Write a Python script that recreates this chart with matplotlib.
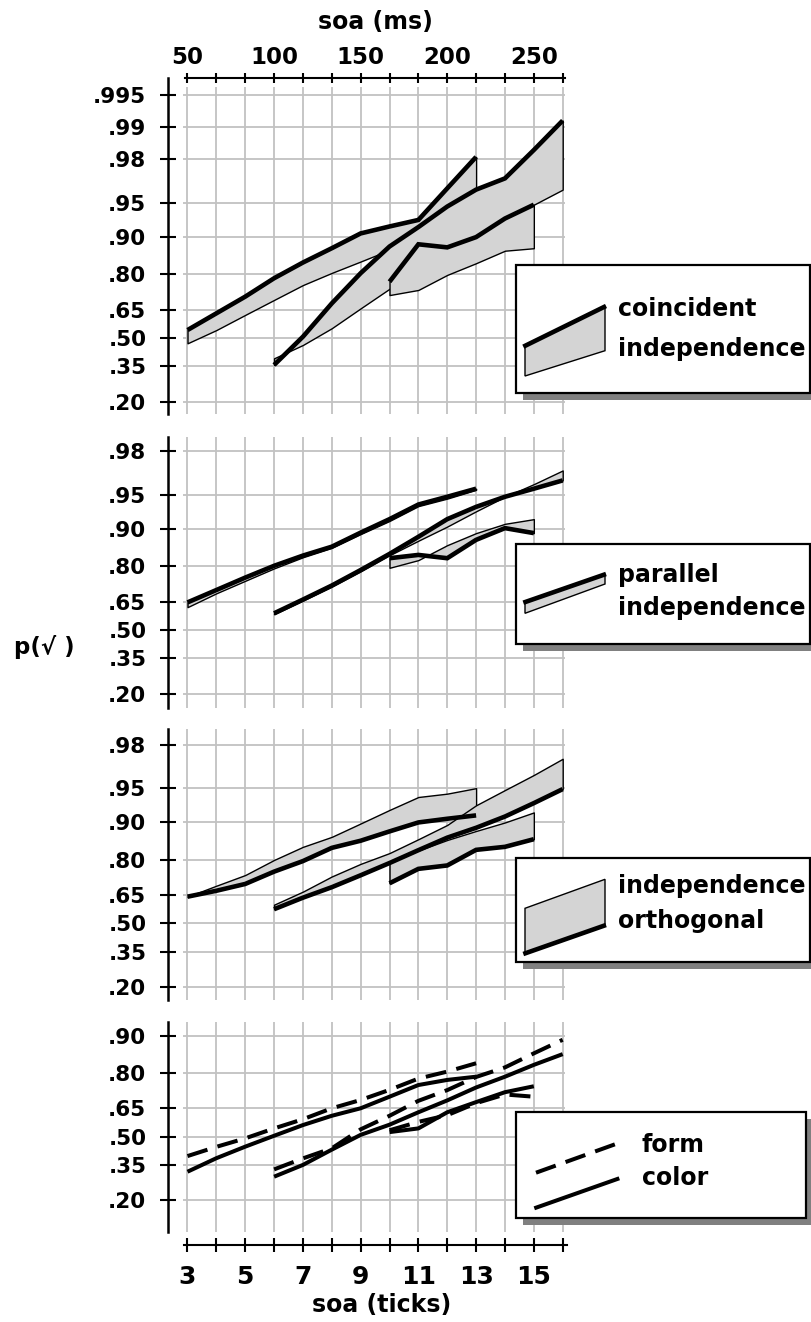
import matplotlib
matplotlib.use("Agg")
import matplotlib.pyplot as plt
import matplotlib.transforms as mtransforms
from matplotlib.ticker import FixedLocator, NullLocator
from matplotlib.patches import Rectangle, Polygon
from matplotlib.lines import Line2D

# ---------------- data ----------------
soa_ticks = list(range(3, 17))
soa_tick_labels = ['3', '', '5', '', '7', '', '9', '', '11', '', '13', '', '15', '']
soa_ms_labels = ['50', '', '', '100', '', '', '150', '', '', '200', '', '', '250', '']

xA = list(range(3, 14))
xB = list(range(6, 17))
xC = list(range(10, 16))

# panel 1: coincident (thick) vs independence (thin)
p1_A_cond = [0.543, 0.631, 0.711, 0.786, 0.838, 0.876, 0.907, 0.919, 0.929, 0.963, 0.981]
p1_A_ind  = [0.471, 0.543, 0.623, 0.696, 0.760, 0.805, 0.841, 0.872, 0.912, 0.946, 0.960]
p1_B_cond = [0.357, 0.507, 0.680, 0.804, 0.880, 0.918, 0.946, 0.962, 0.970, 0.9836, 0.9913]
p1_B_ind  = [0.391, 0.462, 0.553, 0.656, 0.745, 0.840, 0.876, 0.896, 0.931, 0.948, 0.962]
p1_C_cond = [0.773, 0.885, 0.878, 0.900, 0.931, 0.948]
p1_C_ind  = [0.718, 0.740, 0.798, 0.836, 0.870, 0.876]

# panel 2: parallel (thick) vs independence (thin)
p2_A_cond = [0.646, 0.705, 0.758, 0.802, 0.835, 0.860, 0.893, 0.918, 0.939, 0.948, 0.956]
p2_A_ind  = [0.622, 0.690, 0.745, 0.793, 0.830, 0.857, 0.890, 0.915, 0.937, 0.946, 0.955]
p2_B_cond = [0.590, 0.660, 0.725, 0.787, 0.840, 0.884, 0.918, 0.936, 0.948, 0.956, 0.963]
p2_B_ind  = [0.585, 0.655, 0.720, 0.782, 0.836, 0.875, 0.905, 0.930, 0.948, 0.960, 0.970]
p2_C_cond = [0.827, 0.837, 0.827, 0.877, 0.902, 0.892]
p2_C_ind  = [0.795, 0.821, 0.864, 0.892, 0.910, 0.918]

# panel 3: orthogonal (thick) vs independence (thin)
p3_A_cond = [0.641, 0.670, 0.702, 0.755, 0.795, 0.838, 0.858, 0.881, 0.900, 0.907, 0.913]
p3_A_ind  = [0.641, 0.694, 0.741, 0.799, 0.841, 0.868, 0.898, 0.922, 0.940, 0.944, 0.950]
p3_B_cond = [0.576, 0.636, 0.687, 0.740, 0.788, 0.831, 0.866, 0.889, 0.911, 0.932, 0.949]
p3_B_ind  = [0.600, 0.666, 0.735, 0.785, 0.822, 0.862, 0.895, 0.929, 0.948, 0.962, 0.973]
p3_C_cond = [0.705, 0.766, 0.779, 0.832, 0.841, 0.862]
p3_C_ind  = [0.790, 0.830, 0.860, 0.882, 0.900, 0.918]

# panel 4: form (dashed) vs color (solid)
p4_A_form  = [0.396, 0.445, 0.491, 0.545, 0.594, 0.650, 0.690, 0.735, 0.780, 0.805, 0.832]
p4_A_color = [0.318, 0.385, 0.446, 0.505, 0.563, 0.612, 0.650, 0.705, 0.755, 0.775, 0.787]
p4_B_form  = [0.329, 0.384, 0.437, 0.540, 0.612, 0.686, 0.734, 0.786, 0.819, 0.860, 0.892]
p4_B_color = [0.295, 0.351, 0.430, 0.510, 0.565, 0.630, 0.688, 0.745, 0.787, 0.827, 0.858]
p4_C_form  = [0.535, 0.580, 0.615, 0.675, 0.715, 0.705]
p4_C_color = [0.525, 0.545, 0.630, 0.680, 0.725, 0.750]

yticks_full = [0.20, 0.35, 0.50, 0.65, 0.80, 0.90, 0.95, 0.98, 0.99, 0.995]
ylabels_full = ['.20', '.35', '.50', '.65', '.80', '.90', '.95', '.98', '.99', '.995']
panel_nticks = [10, 8, 8, 6]

# ---------------- style / layout ----------------
W, H = 812, 1322
plt.rcParams['font.family'] = ['DejaVu Sans']
plt.rcParams['font.weight'] = 'bold'
fig = plt.figure(figsize=(W / 100, H / 100), dpi=100)
fig.patch.set_facecolor('white')

GRAY = '#d4d4d4'
GRID = '#c2c2c2'
THICK = 3.3
THIN = 1.0

ax_left_px, ax_right_px = 168.2, 570.0
x3_px, unit_px = 187.5, 28.86
xlim = (3 - (x3_px - ax_left_px) / unit_px, 3 + (ax_right_px - x3_px) / unit_px)
grid_x0, grid_x1 = 2.861, 16.08

panels_px = [(78.0, 414.0), (437.0, 708.0), (729.3, 1000.0), (1021.7, 1231.7)]
ylims = [(0.1603, 0.99654), (0.1546, 0.98530), (0.1582, 0.98561), (0.1121, 0.9245)]

pix = mtransforms.Affine2D().scale(1 / W, -1 / H).translate(0, 1) + fig.transFigure

axes = []
for i, ((top, bot), yl) in enumerate(zip(panels_px, ylims)):
    ax = fig.add_axes([ax_left_px / W, 1 - bot / H, (ax_right_px - ax_left_px) / W, (bot - top) / H])
    ax.set_yscale('logit')
    ax.set_xlim(*xlim)
    ax.set_ylim(*yl)
    for s in ['top', 'right', 'bottom']:
        ax.spines[s].set_visible(False)
    ax.spines['left'].set_linewidth(1.8)
    n = panel_nticks[i]
    ax.yaxis.set_major_locator(FixedLocator(yticks_full[:n]))
    ax.yaxis.set_minor_locator(NullLocator())
    ax.set_yticklabels(ylabels_full[:n])
    ax.tick_params(axis='y', direction='inout', length=11.5, width=1.5, pad=10, labelsize=15.5)
    ax.xaxis.set_minor_locator(NullLocator())
    ax.set_xticks([])
    # grid
    gtop = 0.973 if i == 0 else 1.0
    ax.vlines(soa_ticks, 0, gtop, transform=ax.get_xaxis_transform(), colors=GRID, lw=1.3, zorder=0)
    ax.hlines(yticks_full[:n], grid_x0, grid_x1, colors=GRID, lw=1.3, zorder=0)
    axes.append(ax)

# top axis (ms)
ax1 = axes[0]
ax1.spines['top'].set_visible(True)
ax1.spines['top'].set_linewidth(1.5)
ax1.spines['top'].set_bounds(2.93, 16.08)
ax1.xaxis.set_ticks_position('top')
ax1.set_xticks(soa_ticks)
ax1.set_xticklabels(soa_ms_labels)
ax1.tick_params(axis='x', direction='inout', length=6.5, width=1.5, pad=3, labelsize=16.5)

# bottom axis (ticks)
ax4 = axes[3]
ax4.spines['bottom'].set_visible(True)
ax4.spines['bottom'].set_linewidth(1.5)
ax4.spines['bottom'].set_position(('outward', 9.6))
ax4.spines['bottom'].set_bounds(2.88, 16.15)
ax4.xaxis.set_ticks_position('bottom')
ax4.set_xticks(soa_ticks)
ax4.set_xticklabels(soa_tick_labels)
ax4.tick_params(axis='x', direction='inout', length=9.4, width=1.5, pad=10, labelsize=18)

fig.text(375 / W, 1 - 22.5 / H, 'soa (ms)', ha='center', va='center', fontsize=17, fontweight='bold')
fig.text(382 / W, 1 - 1305 / H, 'soa (ticks)', ha='center', va='center', fontsize=17, fontweight='bold')
fig.text(44 / W, 1 - 646.7 / H, 'p(\u221a )', ha='center', va='center', fontsize=16.5, fontweight='bold')


def band(ax, x, cond, ind):
    ax.fill_between(x, cond, ind, facecolor=GRAY, edgecolor='black', linewidth=THIN, zorder=2)


def thick(ax, x, cond):
    ax.plot(x, cond, color='black', lw=THICK, solid_capstyle='butt', solid_joinstyle='miter', zorder=3)


panel_data = [
    [(xA, p1_A_cond, p1_A_ind), (xB, p1_B_cond, p1_B_ind), (xC, p1_C_cond, p1_C_ind)],
    [(xA, p2_A_cond, p2_A_ind), (xB, p2_B_cond, p2_B_ind), (xC, p2_C_cond, p2_C_ind)],
    [(xA, p3_A_cond, p3_A_ind), (xB, p3_B_cond, p3_B_ind), (xC, p3_C_cond, p3_C_ind)],
]
for ax, series in zip(axes[:3], panel_data):
    for x, c, ind in series:
        band(ax, x, c, ind)
    for x, c, ind in series:
        thick(ax, x, c)

LW4 = 2.9
for x, f, c in [(xA, p4_A_form, p4_A_color), (xB, p4_B_form, p4_B_color), (xC, p4_C_form, p4_C_color)]:
    ax4.plot(x, f, color='black', lw=LW4, dashes=(5.2, 2.6), dash_capstyle='butt', zorder=3)
    ax4.plot(x, c, color='black', lw=LW4, solid_capstyle='butt', zorder=3)


# ---------------- legends (drawn in pixel coords) ----------------
def legend_box(x0, y0, x1, y1):
    fig.add_artist(Rectangle((x0 + 7, y0 + 7), x1 - x0, y1 - y0, transform=pix,
                             facecolor='#808080', edgecolor='none', zorder=5))
    fig.add_artist(Rectangle((x0, y0), x1 - x0, y1 - y0, transform=pix,
                             facecolor='white', edgecolor='black', lw=1.6, zorder=6))


def legend_text(x, y, s):
    fig.text(x, y, s, transform=pix, ha='left', va='baseline', fontsize=17,
             fontweight='bold', zorder=8)


def glyph_band(poly, line):
    fig.add_artist(Polygon(poly, closed=True, transform=pix, facecolor=GRAY,
                           edgecolor='black', lw=THIN, zorder=7))
    fig.add_artist(Line2D([line[0][0], line[1][0]], [line[0][1], line[1][1]], transform=pix,
                          color='black', lw=THICK, solid_capstyle='butt', zorder=7))


legend_box(516, 265, 810, 393)
glyph_band([(525, 346.7), (605, 306), (605, 350.7), (525, 376)], [(523.3, 346.7), (606, 306)])
legend_text(618, 316, 'coincident')
legend_text(618, 356, 'independence')

legend_box(516, 544, 810, 644.3)
glyph_band([(525, 602.7), (605, 574), (605, 584), (525, 613.3)], [(523.3, 602.7), (606, 574)])
legend_text(618, 582.3, 'parallel')
legend_text(618, 615, 'independence')

legend_box(516, 858.3, 810, 961.7)
glyph_band([(525, 908.3), (605, 879.3), (605, 925), (525, 954)], [(523.3, 954), (606, 925)])
legend_text(618, 893.3, 'independence')
legend_text(618, 927.7, 'orthogonal')

legend_box(516, 1111.7, 806, 1217.7)
fig.add_artist(Line2D([536, 615], [1172.7, 1144.3], transform=pix, color='black', lw=LW4,
                      dashes=(5.2, 2.6), dash_capstyle='butt', zorder=7))
fig.add_artist(Line2D([534.3, 619.3], [1208.3, 1178.3], transform=pix, color='black', lw=LW4,
                      solid_capstyle='butt', zorder=7))
legend_text(641.7, 1151.7, 'form')
legend_text(641.7, 1185, 'color')

fig.savefig('out.png', dpi=100, facecolor='white')
